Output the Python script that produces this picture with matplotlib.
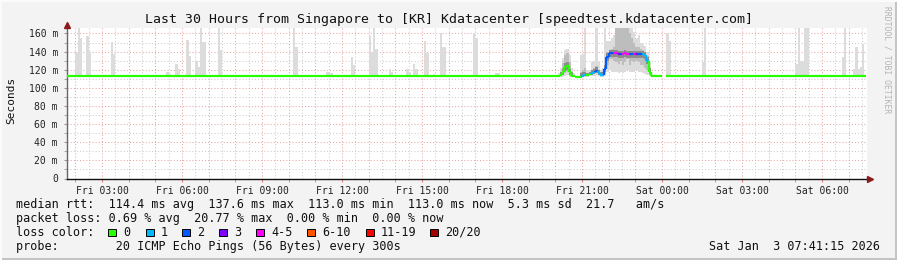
import matplotlib
matplotlib.use("Agg")
import matplotlib.pyplot as plt
import numpy as np
from matplotlib.collections import LineCollection
from matplotlib.patches import Rectangle

# time is in minutes since Fri 00:00
start_min = 101.25   # Fri 01:41:15
end_min = 1901.25    # Sat 07:41:15
step_min = 5
base_rtt = 113.0

# isolated smoke spikes in the quiet periods (start of 5 min step, top of smoke)
spike_min = [120, 125, 130, 145, 150, 200, 205, 325, 330, 345, 350, 370, 375,
             390, 395, 400, 405, 410, 440, 445, 610, 615, 685, 690, 695, 740, 745,
             780, 785, 790, 795, 825, 830, 865, 870, 880, 885, 905, 910, 925,
             940, 945, 950, 1015, 1020, 1065, 1070, 1450, 1455, 1530, 1535,
             1740, 1745, 1750, 1755, 1760, 1765, 1845, 1850,
             1870, 1875, 1880, 1885, 1890]
spike_top = [140, 166, 155, 157, 140, 151, 137, 117, 115, 126, 121, 153, 135,
             130, 123, 166, 151, 151, 166, 142, 166, 145, 118, 116, 116, 134, 125,
             157, 140, 166, 143, 121, 118, 121, 117, 126, 121, 152, 138, 115,
             161, 145, 145, 160, 155, 116, 116, 161, 152, 129, 166,
             126, 166, 130, 130, 166, 166, 134, 166,
             121, 145, 121, 123, 148]

# busy period Fri 20:00 - 23:55, one value per 5 min step
busy_start = 1200
busy_med = [113, 113, 114, 117, 123, 124, 117, 113, 113, 112, 112, 112,
            113, 114, 114, 115, 116, 117, 119, 116, 114, 114, 121, 134,
            138, 138, 138, 138, 137, 137, 137, 138, 137, 137, 137, 137,
            137, 137, 137, 137, 136, 130, 118, 113, 113, 113, 113, 113]
busy_hi = [113, 116, 122, 133, 142, 143, 136, 122, 116, 113, 113, 136,
           137, 166, 120, 120, 128, 130, 166, 128, 120, 122, 166, 152,
           152, 155, 158, 166, 166, 166, 166, 166, 166, 166, 166, 162,
           155, 158, 150, 148, 146, 140, 128, 115, 113, 113, 113, 113]
busy_q3 = [113, 114, 118, 127, 136, 138, 128, 117, 114, 113, 113, 118,
           120, 122, 116, 117, 120, 122, 124, 120, 117, 118, 125, 140,
           142, 143, 145, 166, 166, 166, 166, 166, 166, 160, 155, 150,
           145, 145, 143, 142, 140, 135, 122, 114, 113, 113, 113, 113]
busy_q1 = [113, 113, 113, 114, 116, 117, 114, 113, 113, 112, 112, 113,
           113, 113, 113, 114, 114, 115, 116, 114, 113, 113, 115, 125,
           132, 132, 130, 128, 126, 130, 125, 128, 132, 125, 130, 128,
           130, 128, 125, 125, 122, 120, 115, 113, 113, 113, 113, 113]
busy_lo = [113, 112, 112, 112, 113, 114, 112, 112, 112, 112, 112, 112,
           112, 112, 112, 113, 113, 113, 114, 113, 112, 112, 113, 118,
           120, 118, 118, 118, 116, 118, 116, 118, 120, 117, 118, 117,
           120, 118, 117, 116, 115, 114, 113, 112, 113, 113, 113, 113]
busy_loss = [0, 0, 0, 0, 0, 0, 0, 0, 0, 0, 0, 0,
             1, 1, 0, 0, 1, 1, 2, 1, 1, 1, 2, 2,
             2, 2, 4, 4, 3, 2, 4, 4, 4, 2, 2, 4,
             3, 2, 2, 1, 1, 1, 0, 0, 0, 0, 0, 0]

gap_min = [1440, 1445]

loss_labels = ["0", "1", "2", "3", "4-5", "6-10", "11-19", "20/20"]
loss_colors = ["#26ff00", "#00b8ff", "#0059ff", "#7e00ff", "#ff00ff",
               "#ff5500", "#ff0000", "#a10000"]

tick_labels = ["Fri 03:00", "Fri 06:00", "Fri 09:00", "Fri 12:00", "Fri 15:00",
               "Fri 18:00", "Fri 21:00", "Sat 00:00", "Sat 03:00", "Sat 06:00"]

W, H = 897, 260
MONO = "DejaVu Sans Mono"
fig = plt.figure(figsize=(W / 100, H / 100), dpi=100)
fig.patch.set_facecolor("#f3f3f3")

def fx(px):
    return px / W

def fy(py):
    return 1 - py / H

ax = fig.add_axes([fx(67), fy(178.5), 800 / W, (178.5 - 28) / H])
ax.set_facecolor("white")
ax.set_xlim(start_min, end_min)
ax.set_ylim(0, 166)

# grid
for m in range(120, 1901, 60):
    ax.axvline(m, color="#eaa4a4", lw=0.75, dashes=(1, 2), zorder=1)
for m in range(150, 1901, 60):
    ax.axvline(m, color="#cccccc", lw=0.75, dashes=(1, 2), zorder=1)
for v in range(20, 161, 20):
    ax.axhline(v, color="#eaa4a4", lw=0.75, dashes=(1, 2), zorder=1)
for v in range(10, 161, 20):
    ax.axhline(v, color="#cccccc", lw=0.75, dashes=(1, 2), zorder=1)

# smoke spikes
sp_t = np.array(spike_min, dtype=float)
sp_v = np.array(spike_top, dtype=float)
ax.bar(sp_t, sp_v - base_rtt, bottom=base_rtt, width=step_min, align="edge",
       color="#dcdcdc", lw=0, zorder=2)

# busy smoke
n_busy = len(busy_med)
b_t = busy_start + step_min * np.arange(n_busy)
b_hi, b_q3 = np.array(busy_hi, float), np.array(busy_q3, float)
b_q1, b_lo = np.array(busy_q1, float), np.array(busy_lo, float)
ax.bar(b_t, b_hi - b_lo, bottom=b_lo, width=step_min, align="edge",
       color="#dcdcdc", lw=0, zorder=2)
ax.bar(b_t, b_q3 - b_q1, bottom=b_q1, width=step_min, align="edge",
       color="#bdbdbd", lw=0, zorder=2)
med_arr = np.array(busy_med, float)
ax.bar(b_t, np.minimum(b_q3, med_arr + 4) - np.maximum(b_q1, med_arr - 4),
       bottom=np.maximum(b_q1, med_arr - 4), width=step_min, align="edge",
       color="#8c8c8c", lw=0, zorder=2)

# median line coloured by loss
t_all = np.arange(100, 1900, step_min, dtype=float)
med_all = np.full(len(t_all), base_rtt)
loss_all = np.zeros(len(t_all), dtype=int)
i0 = int((busy_start - 100) // step_min)
med_all[i0:i0 + n_busy] = busy_med
loss_all[i0:i0 + n_busy] = busy_loss
for g in gap_min:
    med_all[int((g - 100) // step_min)] = np.nan

segs, cols = [], []
for i in range(len(t_all)):
    if np.isnan(med_all[i]):
        continue
    c = loss_colors[loss_all[i]]
    segs.append([(t_all[i], med_all[i]), (t_all[i] + step_min, med_all[i])])
    cols.append(c)
    if i + 1 < len(t_all) and not np.isnan(med_all[i + 1]) and med_all[i + 1] != med_all[i]:
        segs.append([(t_all[i] + step_min, med_all[i]),
                     (t_all[i] + step_min, med_all[i + 1])])
        cols.append(loss_colors[loss_all[i + 1]])
ax.add_collection(LineCollection(segs, colors=cols, linewidths=1.6,
                                 capstyle="butt", zorder=4))

# axes
ax.set_xticks(np.arange(180, 1901, 180))
ax.set_xticklabels(tick_labels, family=MONO, fontsize=7, color="#222222")
ax.set_xticks(np.arange(120, 1901, 60), minor=True)
ax.set_yticks(np.arange(0, 161, 20))
ax.set_yticklabels(["0"] + [f"{v} m" for v in range(20, 161, 20)],
                   family=MONO, fontsize=7, color="#222222")
ax.set_yticks(np.arange(10, 161, 20), minor=True)
ax.tick_params(axis="x", which="both", length=2.5, color="#e08080", pad=3)
ax.tick_params(axis="y", which="both", length=2.5, color="#999999", pad=4)
for s in ["top", "right"]:
    ax.spines[s].set_visible(False)
ax.spines["left"].set_color("#666666")
ax.spines["bottom"].set_color("#111111")
ax.spines["left"].set_linewidth(1)
ax.spines["bottom"].set_linewidth(1)
ax.plot([0], [1.02], marker="^", ms=4.5, color="#8b1a1a", transform=ax.transAxes,
        clip_on=False, zorder=6)
ax.plot([1.004], [0], marker=">", ms=4.5, color="#8b1a1a", transform=ax.transAxes,
        clip_on=False, zorder=6)

fig.text(fx(11), fy(100), "Seconds", rotation=90, family=MONO, fontsize=8,
         ha="center", va="center", color="#111111")

fig.text(0.5, fy(19), "Last 30 Hours from Singapore to [KR] Kdatacenter [speedtest.kdatacenter.com]",
         family=MONO, fontsize=9.5, ha="center", va="center", color="#111111")

fig.text(fx(887), fy(6), "RRDTOOL / TOBI OETIKER", rotation=270, family=MONO,
         fontsize=5.8, ha="center", va="top", color="#b4b4b4")

# legend
lfs = 8.5
fig.text(fx(16), fy(204.3),
         "median rtt:  114.4 ms avg  137.6 ms max  113.0 ms min  113.0 ms now  5.3 ms sd  21.7   am/s",
         family=MONO, fontsize=lfs, va="center", color="#111111")
fig.text(fx(16), fy(218.3),
         "packet loss: 0.69 % avg  20.77 % max  0.00 % min  0.00 % now",
         family=MONO, fontsize=lfs, va="center", color="#111111")
fig.text(fx(16), fy(232.3), "loss color:", family=MONO, fontsize=lfs,
         va="center", color="#111111")
box_x = [108, 146, 182, 219, 256, 307, 366, 430]
for bx, lab, col in zip(box_x, loss_labels, loss_colors):
    fig.patches.append(Rectangle((fx(bx), fy(236)), 7.5 / W, 7.5 / H,
                                 transform=fig.transFigure, facecolor=col,
                                 edgecolor="black", lw=0.7))
    fig.text(fx(bx + 15), fy(232.3), lab, family=MONO, fontsize=lfs,
             va="center", color="#111111")
fig.text(fx(16), fy(246.3), "probe:        20 ICMP Echo Pings (56 Bytes) every 300s",
         family=MONO, fontsize=lfs, va="center", color="#111111")
fig.text(fx(880), fy(246.3), "Sat Jan  3 07:41:15 2026", family=MONO,
         fontsize=lfs, va="center", ha="right", color="#111111")

# frame
fig.patches.append(Rectangle((0, 0), 1, 2.5 / H, transform=fig.transFigure,
                             facecolor="#c4c4c4", lw=0))
fig.patches.append(Rectangle((1 - 2.5 / W, 0), 2.5 / W, 1, transform=fig.transFigure,
                             facecolor="#c4c4c4", lw=0))
fig.patches.append(Rectangle((0, 1 - 1.5 / H), 1, 1.5 / H, transform=fig.transFigure,
                             facecolor="#fbfbfb", lw=0))
fig.patches.append(Rectangle((0, 0), 1.5 / W, 1, transform=fig.transFigure,
                             facecolor="#fbfbfb", lw=0))

fig.savefig("out.png", dpi=100, facecolor=fig.get_facecolor())
